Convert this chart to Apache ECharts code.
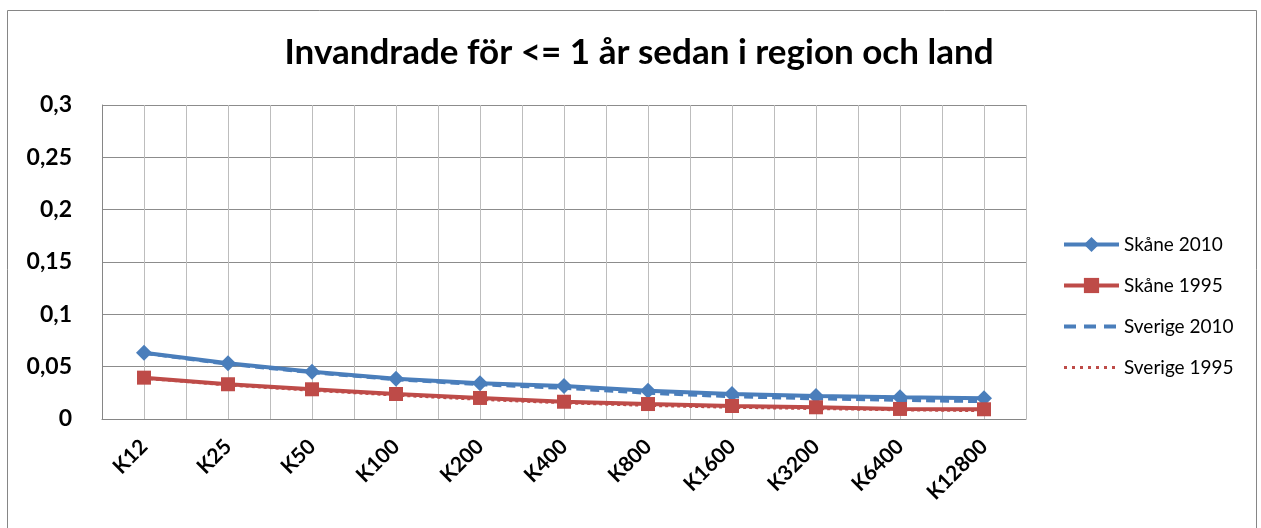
<!DOCTYPE html>
<html>
<head>
<meta charset="utf-8">
<script src="https://cdn.jsdelivr.net/npm/echarts@6/dist/echarts.min.js"></script>
<style>
  html, body { margin: 0; padding: 0; background: #fff; }
  #chart { width: 1261px; height: 528px; }
</style>
</head>
<body>
<div id="chart"></div>
<script>
// data
const categories = ["K12", "K25", "K50", "K100", "K200", "K400", "K800", "K1600", "K3200", "K6400", "K12800"];
const skane2010 = [0.0633, 0.0532, 0.0452, 0.0385, 0.0341, 0.0315, 0.0270, 0.0239, 0.0220, 0.0207, 0.0198];
const skane1995 = [0.0395, 0.0332, 0.0284, 0.0239, 0.0201, 0.0165, 0.0143, 0.0124, 0.0112, 0.0096, 0.0093];
const sverige2010 = [0.0630, 0.0525, 0.0445, 0.0378, 0.0330, 0.0295, 0.0248, 0.0215, 0.0195, 0.0180, 0.0168];
const sverige1995 = [0.0390, 0.0325, 0.0275, 0.0228, 0.0188, 0.0155, 0.0130, 0.0112, 0.0100, 0.0088, 0.0080];
const yTicks = { min: 0, max: 0.3, step: 0.05 };

const font = "Lato, 'Open Sans', sans-serif";
const blue = "#4a7ebb";
const red = "#be4b48";
const hidden = { color: "rgba(0,0,0,0)", borderWidth: 0 };

const chart = echarts.init(document.getElementById("chart"));

const options = {
  animation: false,
  textStyle: { fontFamily: font },
  title: {
    text: "Invandrade för <= 1 år sedan i region och land",
    left: 634,
    textAlign: "center",
    top: 30,
    textStyle: { fontSize: 35, fontWeight: "bold", color: "#000", fontFamily: font },
  },
  graphic: [
    {
      type: "rect",
      shape: { x: 7.5, y: 10.5, width: 1249, height: 540 },
      style: { fill: "none", stroke: "#868686", lineWidth: 1 },
      silent: true,
    },
  ],
  grid: { left: 102, right: 235, top: 105, bottom: 109, containLabel: false },
  legend: {
    orient: "vertical",
    left: 1057,
    top: 230,
    itemWidth: 55,
    itemHeight: 19,
    itemGap: 22,
    data: [
      { name: "Skåne 2010", lineStyle: { width: 4 } },
      { name: "Skåne 1995", lineStyle: { width: 4 } },
      { name: "Sverige 2010", itemStyle: hidden, lineStyle: { width: 4, type: [12, 8] } },
      { name: "Sverige 1995", itemStyle: hidden, lineStyle: { width: 3, type: [3, 5] } },
    ],
    textStyle: { fontSize: 19, color: "#000", fontFamily: font },
  },
  xAxis: [
    {
      type: "category",
      data: categories,
      boundaryGap: true,
      axisLine: { lineStyle: { color: "#868686", width: 1 } },
      axisTick: { show: false },
      splitLine: { show: false },
      axisLabel: {
        rotate: 45,
        margin: 24,
        fontSize: 21,
        fontWeight: "bold",
        color: "#000",
        fontFamily: font,
      },
    },
    {
      // helper axis for the vertical gridlines every half category
      type: "value",
      min: 0,
      max: categories.length * 2,
      interval: 1,
      show: true,
      axisLine: { show: false },
      axisTick: { show: false },
      axisLabel: { show: false },
      splitLine: { show: true, lineStyle: { color: "#bdbdbd", width: 1 } },
    },
  ],
  yAxis: {
    type: "value",
    min: yTicks.min,
    max: yTicks.max,
    interval: yTicks.step,
    axisLine: { show: true, lineStyle: { color: "#868686", width: 1 } },
    axisTick: { show: false },
    splitLine: { lineStyle: { color: "#8c8c8c", width: 1 } },
    axisLabel: {
      margin: 30,
      fontSize: 23,
      fontWeight: "bold",
      color: "#000",
      fontFamily: font,
      formatter: (v) => String(+v.toFixed(2)).replace(".", ","),
    },
  },
  series: [
    {
      name: "Sverige 2010",
      type: "line",
      data: sverige2010,
      symbol: "none",
      z: 2,
      lineStyle: { color: blue, width: 3.5, type: [9, 5] },
      itemStyle: { color: blue },
    },
    {
      name: "Sverige 1995",
      type: "line",
      data: sverige1995,
      symbol: "none",
      z: 2,
      lineStyle: { color: red, width: 3, type: [3, 3] },
      itemStyle: { color: red },
    },
    {
      name: "Skåne 2010",
      type: "line",
      data: skane2010,
      symbol: "diamond",
      symbolSize: 16,
      z: 3,
      lineStyle: { color: blue, width: 4 },
      itemStyle: { color: blue },
    },
    {
      name: "Skåne 1995",
      type: "line",
      data: skane1995,
      symbol: "rect",
      symbolSize: 14,
      z: 3,
      lineStyle: { color: red, width: 4 },
      itemStyle: { color: red },
    },
  ],
};

chart.setOption(options);
</script>
</body>
</html>
